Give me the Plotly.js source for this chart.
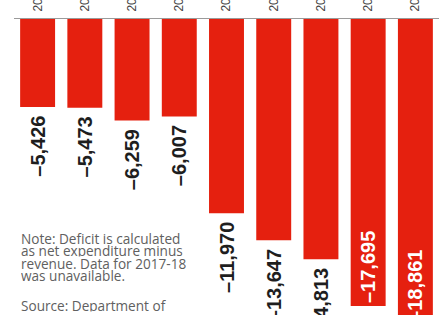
<!DOCTYPE html>
<html>
<head>
<meta charset="utf-8">
<script src="https://cdn.plot.ly/plotly-3.0.1.min.js"></script>
<style>html,body{margin:0;padding:0;background:#fff;overflow:hidden;}#chart{width:441px;height:345px;}</style>
</head>
<body>
<div id="chart"></div>
<script>
const years = ["2009-10","2010-11","2011-12","2012-13","2013-14","2014-15","2015-16","2016-17","2018-19"];
const deficit = [-5426, -5473, -6259, -6007, -11970, -13647, -14813, -17695, -18861];
const labelInside = [false, false, false, false, false, false, false, true, true];
const noteLines = ["Note: Deficit is calculated", "as net expenditure minus", "revenue. Data for 2017-18", "was unavailable.", "Source: Department of"];

const fmt = v => "\u2013" + Math.abs(v).toLocaleString("en-US");
const texts = deficit.map((v, i) => labelInside[i] ? fmt(v) : fmt(v) + "\u00a0");
const positions = labelInside.map(b => b ? "inside" : "outside");

// figure is taller than the 315px window; the bottom is cropped like the reference
const figH = 345, marginTop = 19, marginBottom = 0;
const plotH = figH - marginTop - marginBottom;
const pxPerUnit = 0.01622;
const py = pix => (figH - marginBottom - pix) / plotH; // pixel row -> paper y

const trace = {
  type: "bar",
  x: years,
  y: deficit,
  marker: {color: "#e5200f", line: {width: 0}},
  text: texts,
  textposition: positions,
  insidetextanchor: "end",
  textangle: -90,
  constraintext: "none",
  cliponaxis: false,
  insidetextfont: {family: "Liberation Sans, Arial, sans-serif", size: 20, color: "#ffffff", weight: "bold"},
  outsidetextfont: {family: "Liberation Sans, Arial, sans-serif", size: 20, color: "#1e1e1e", weight: "bold"},
  hoverinfo: "none"
};

const noteCenters = [238, 250.5, 263, 275.5, 305];
const annotations = noteLines.map((t, i) => ({
  xref: "paper", yref: "paper",
  x: (19 - 14) / 425, y: py(noteCenters[i]),
  xanchor: "left", yanchor: "middle", align: "left", showarrow: false,
  height: 12.5,
  text: t,
  font: {family: "Open Sans, Noto Sans, sans-serif", size: 13.6, color: "#606060"}
}));

const layout = {
  width: 441, height: figH,
  margin: {l: 14, r: 2, t: marginTop, b: marginBottom, pad: 0},
  paper_bgcolor: "#ffffff",
  plot_bgcolor: "#ffffff",
  showlegend: false,
  bargap: 0.26,
  xaxis: {
    side: "top",
    type: "category",
    range: [-0.5, 8.5],
    tickangle: -90,
    ticks: "",
    ticklabelstandoff: 4,
    showline: true,
    linecolor: "#9a9a9a",
    linewidth: 1,
    showgrid: false,
    zeroline: false,
    tickfont: {family: "Liberation Sans, Arial, sans-serif", size: 12, color: "#444"},
    automargin: false
  },
  yaxis: {
    range: [-plotH / pxPerUnit, 0],
    visible: false,
    showgrid: false,
    zeroline: false,
    fixedrange: true
  },
  annotations: annotations
};

Plotly.newPlot("chart", [trace], layout, {staticPlot: true, displayModeBar: false});
</script>
</body>
</html>
